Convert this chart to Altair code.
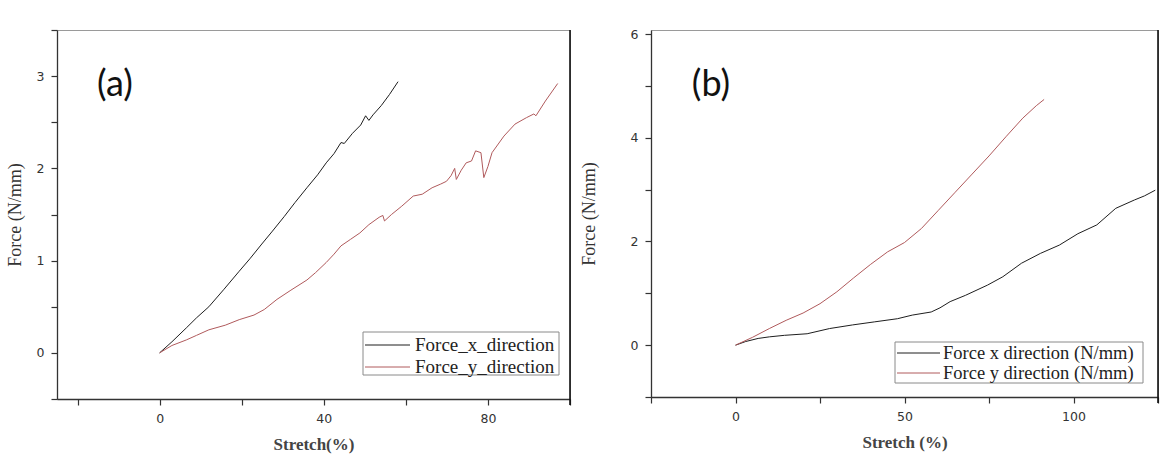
import altair as alt
import pandas as pd

# ---- Panel (a): force vs. stretch ----
a_x_stretch = [0, 3, 6.5, 9, 12, 15.7, 19.4, 22, 24.9, 27.5, 30.4, 33, 35.9, 38.5,
               40.6, 42.5, 44.2, 45, 47, 49, 50.2, 51, 52, 54, 56, 58.1]
a_x_force = [0, 0.12, 0.27, 0.38, 0.5, 0.69, 0.885, 1.02, 1.18, 1.32, 1.48, 1.63, 1.79, 1.93,
             2.06, 2.16, 2.28, 2.27, 2.38, 2.47, 2.57, 2.52, 2.58, 2.68, 2.80, 2.94]
a_y_stretch = [0, 3, 6.5, 9, 12, 16, 19.4, 23, 25.5, 28.6, 32, 35.9, 38, 40.6, 42.5, 44.2,
               46.5, 48.8, 51, 53.5, 54.4, 54.8, 56.5, 59, 61.8, 64, 66.4, 68.5, 69.9, 71,
               71.9, 72.3, 73.5, 74.7, 76, 77, 78.3, 79, 80, 81, 83.9, 86.6, 89.4, 91.2,
               91.7, 94, 97]
a_y_force = [0, 0.08, 0.14, 0.19, 0.25, 0.3, 0.36, 0.41, 0.47, 0.58, 0.68, 0.79, 0.87, 0.98,
             1.07, 1.16, 1.23, 1.30, 1.39, 1.47, 1.49, 1.43, 1.5, 1.59, 1.70, 1.72, 1.79,
             1.83, 1.86, 1.92, 2.0, 1.88, 1.98, 2.06, 2.08, 2.19, 2.17, 1.90, 2.02, 2.17,
             2.35, 2.48, 2.55, 2.59, 2.57, 2.73, 2.92]
a_series = ["Force_x_direction", "Force_y_direction"]

# ---- Panel (b): force vs. stretch ----
b_x_stretch = [0, 3, 6.7, 10, 14.5, 21.2, 27.8, 34.6, 41.2, 47.9, 52.3, 57.9, 60.5, 63.5,
               68, 74.6, 79.1, 84.6, 90.2, 95.8, 101.3, 106.9, 112.5, 118, 121, 124.2]
b_x_force = [0, 0.07, 0.13, 0.16, 0.19, 0.22, 0.32, 0.39, 0.45, 0.51, 0.58, 0.64, 0.72, 0.84,
             0.96, 1.16, 1.32, 1.58, 1.77, 1.93, 2.15, 2.32, 2.64, 2.80, 2.88, 2.99]
b_y_stretch = [0, 5, 10, 15, 20, 25, 30, 35, 40, 45, 50, 55, 60, 65, 70, 75, 80, 85, 89, 91.3]
b_y_force = [0, 0.15, 0.32, 0.48, 0.62, 0.80, 1.03, 1.30, 1.56, 1.80, 1.98, 2.25, 2.6, 2.95,
             3.3, 3.65, 4.02, 4.38, 4.62, 4.74]
b_series = ["Force x direction (N/mm)", "Force y direction (N/mm)"]

panel_tags = ["(a)", "(b)"]
line_colors = ["#1e1e1e", "#b05a5c"]

SERIF = "Liberation Serif"
SANS = "DejaVu Sans"


def build_frame(series, xs_list, ys_list):
    parts = []
    for name, xs, ys in zip(series, xs_list, ys_list):
        parts.append(pd.DataFrame({"stretch": xs, "force": ys, "series": name,
                                   "order": range(len(xs))}))
    return pd.concat(parts, ignore_index=True)


def legend_layers(series, box, rows, sym, text_x, font_size):
    """Boxed legend drawn inside the plot: box=(x0,x1,y0,y1), rows=y centres."""
    x0, x1, y0, y1 = box
    one = pd.DataFrame({"k": [0]})
    layers = [alt.Chart(one).mark_rect(fill="white", stroke="#8a8a8a", strokeWidth=1).encode(
        x=alt.value(x0), x2=alt.value(x1), y=alt.value(y0), y2=alt.value(y1))]
    for name, color, ry in zip(series, line_colors, rows):
        layers.append(alt.Chart(one).mark_rule(color=color, strokeWidth=1).encode(
            x=alt.value(sym[0]), x2=alt.value(sym[1]), y=alt.value(ry)))
        layers.append(alt.Chart(pd.DataFrame({"name": [name]})).mark_text(
            font=SERIF, fontSize=font_size, color="#222", align="left",
            baseline="middle").encode(
            x=alt.value(text_x), y=alt.value(ry), text="name:N"))
    return layers


def panel(df, series, tag, w, h, xdom, xticks, xlab_step, xtitle,
          ydom, yticks, ylab_step, title_x, legend, tag_x, tag_y):
    x_axis = alt.Axis(values=xticks, title=xtitle, labelOverlap=False,
                      labelExpr=f"datum.value % {xlab_step} === 0 ? format(datum.value, 'd') : ''")
    y_axis = alt.Axis(values=yticks, title="Force (N/mm)", titleX=title_x,
                      titleBaseline="middle", labelOverlap=False,
                      labelExpr=f"datum.value % {ylab_step} === 0 ? format(datum.value, 'd') : ''")
    lines = alt.Chart(df).mark_line(strokeWidth=1, clip=True).encode(
        x=alt.X("stretch:Q", scale=alt.Scale(domain=xdom, nice=False, zero=False), axis=x_axis),
        y=alt.Y("force:Q", scale=alt.Scale(domain=ydom, nice=False, zero=False), axis=y_axis),
        color=alt.Color("series:N", scale=alt.Scale(domain=series, range=line_colors),
                        legend=None),
        order="order:Q",
    )
    right_edge = alt.Chart(pd.DataFrame({"tag": [tag]})).mark_rule(
        color="#111", strokeWidth=1.6).encode(
        x=alt.value(w), y=alt.value(0), y2=alt.value(h + 6))
    label = alt.Chart(pd.DataFrame({"tag": [tag]})).mark_text(
        font="Lato", fontSize=36, color="#111", align="center", baseline="middle").encode(
        x=alt.value(tag_x), y=alt.value(tag_y), text="tag:N")
    return alt.layer(lines, right_edge, label, *legend).properties(width=w, height=h)


df_a = build_frame(a_series, [a_x_stretch, a_y_stretch], [a_x_force, a_y_force])
df_b = build_frame(b_series, [b_x_stretch, b_y_stretch], [b_x_force, b_y_force])

legend_a = legend_layers(a_series, (306, 502, 302, 345), (315, 337), (308, 353), 358, 19)
legend_b = legend_layers(b_series, (244, 492, 312, 353), (323, 343), (246, 289), 292, 18.5)

chart_a = panel(df_a, a_series, panel_tags[0], 513, 369, [-25, 100],
                [-20, 0, 20, 40, 60, 80, 100], 40, "Stretch(%)",
                [-0.5, 3.5], [-0.5, 0, 0.5, 1, 1.5, 2, 2.5, 3, 3.5], 1, -42,
                legend_a, 58, 55)
chart_b = panel(df_b, b_series, panel_tags[1], 507, 367, [-25, 125],
                [-25, 0, 25, 50, 75, 100, 125], 50, "Stretch (%)",
                [-1, 6.08], [-1, 0, 1, 2, 3, 4, 5, 6], 2, -62,
                legend_b, 60, 55)

chart = alt.hconcat(chart_a, chart_b, spacing=7).resolve_scale(
    color="independent", x="independent", y="independent"
).properties(
    padding={"left": 5, "top": 23, "right": 10, "bottom": 5},
    background="white",
).configure_view(
    stroke="#9a9a9a", strokeWidth=1
).configure_axis(
    grid=False, domainColor="#333", domainWidth=1.3, tickColor="#333", tickSize=6,
    tickWidth=1.2, labelFont=SANS, labelFontSize=12.5, labelColor="#333", labelPadding=7,
    titleFont=SERIF, titleFontSize=18, titleFontWeight="normal", titleColor="#333",
).configure_axisX(
    titlePadding=12, titleFontWeight="bold", titleFontSize=17, titleColor="#444"
)

chart.save("out.html", embed_options={"renderer": "svg", "actions": False})
